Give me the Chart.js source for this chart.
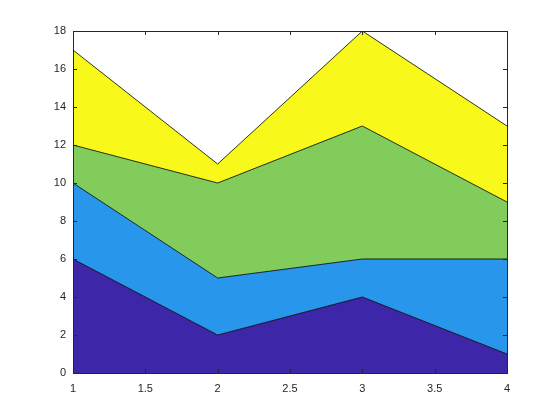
<!DOCTYPE html>
<html lang="en">
  <head>
    <meta charset="utf-8" />
    <title>Area Chart</title>
    <style>
      html, body { margin: 0; padding: 0; background: #fff; }
      #wrap { width: 560px; height: 420px; }
    </style>
  </head>
  <body>
    <div id="wrap">
      <canvas id="canvas" width="560" height="420"></canvas>
    </div>

    <script src="https://cdn.jsdelivr.net/npm/chart.js"></script>

    <script>
      const xValues = [1, 2, 3, 4];
      const series1 = [6, 2, 4, 1];
      const series2 = [4, 3, 2, 5];
      const series3 = [2, 5, 7, 3];
      const series4 = [5, 1, 5, 4];
      const colors = ["#3e26a8", "#2896ea", "#81cc5a", "#f8f81a"];

      const allSeries = [series1, series2, series3, series4];

      // inward ticks + box like matlab axes
      const boxTicks = {
        id: "boxTicks",
        afterDraw(chart) {
          const { ctx, chartArea: a, scales } = chart;
          ctx.save();
          ctx.strokeStyle = "#262626";
          ctx.lineWidth = 1;
          ctx.beginPath();
          scales.x.ticks.forEach((t) => {
            const px = Math.round(scales.x.getPixelForValue(t.value)) + 0.5;
            ctx.moveTo(px, a.bottom);
            ctx.lineTo(px, a.bottom - 4);
            ctx.moveTo(px, a.top);
            ctx.lineTo(px, a.top + 4);
          });
          scales.y.ticks.forEach((t) => {
            const py = Math.round(scales.y.getPixelForValue(t.value)) + 0.5;
            ctx.moveTo(a.left, py);
            ctx.lineTo(a.left + 4, py);
            ctx.moveTo(a.right, py);
            ctx.lineTo(a.right - 4, py);
          });
          ctx.stroke();
          ctx.strokeRect(
            Math.round(a.left) + 0.5,
            Math.round(a.top) + 0.5,
            Math.round(a.right - a.left),
            Math.round(a.bottom - a.top)
          );
          ctx.restore();
        },
      };

      const ctx = document.getElementById("canvas");

      new Chart(ctx, {
        type: "line",
        data: {
          datasets: allSeries.map((s, i) => ({
            data: s.map((v, j) => ({ x: xValues[j], y: v })),
            backgroundColor: colors[i],
            borderColor: "#000",
            borderWidth: 0.8,
            pointRadius: 0,
            tension: 0,
            fill: i === 0 ? "origin" : "-1",
          })),
        },
        options: {
          responsive: false,
          animation: false,
          layout: { padding: { left: 0, top: 31, right: 53, bottom: 0 } },
          plugins: {
            legend: { display: false },
            tooltip: { enabled: false },
          },
          scales: {
            x: {
              type: "linear",
              min: 1,
              max: 4,
              ticks: {
                stepSize: 0.5,
                color: "#262626",
                font: { family: "Liberation Sans", size: 11 },
                padding: 9,
                maxRotation: 0,
                callback: (v) => String(v),
              },
              grid: { display: false, drawTicks: false },
              border: { display: false },
              afterFit(scale) {
                scale.height = 47;
              },
            },
            y: {
              stacked: true,
              min: 0,
              max: 18,
              ticks: {
                stepSize: 2,
                color: "#262626",
                font: { family: "Liberation Sans", size: 11 },
                padding: 7,
              },
              grid: { display: false, drawTicks: false },
              border: { display: false },
              afterFit(scale) {
                scale.width = 73;
              },
            },
          },
        },
        plugins: [boxTicks],
      });
    </script>
  </body>
</html>
